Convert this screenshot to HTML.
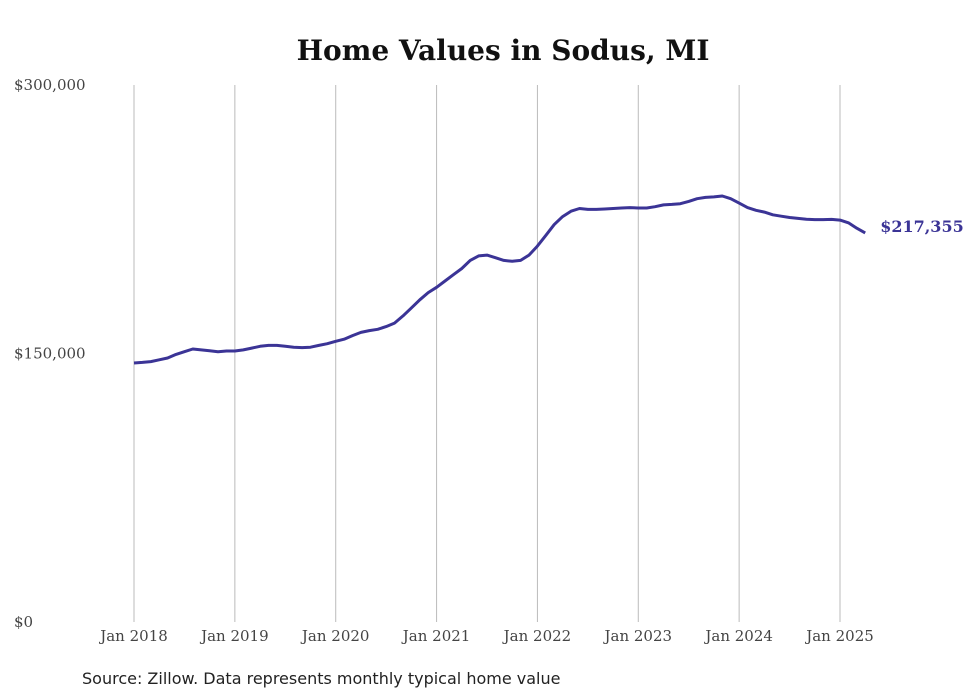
<!DOCTYPE html>
<html><head><meta charset="utf-8">
<style>
html,body{margin:0;padding:0;background:#fff;}
svg{display:block;font-family:"DejaVu Serif","Liberation Serif",serif;}
</style></head>
<body>
<svg id="chart" width="980" height="699" viewBox="0 0 980 699">
<rect width="980" height="699" fill="#fff"/>
<text x="503" y="60" text-anchor="middle" font-size="28" font-weight="bold" fill="#111">Home Values in Sodus, MI</text>
<g id="grid"></g>
<g id="yticks"></g>
<g id="xticks"></g>
<path id="line" fill="none" stroke="#3b3496" stroke-width="3" stroke-linejoin="round"/>
<text id="endlabel" font-size="16" font-weight="bold" fill="#3b3496"></text>
<text x="82" y="684" font-size="16" fill="#222" font-family="'DejaVu Sans','Liberation Sans',sans-serif">Source: Zillow. Data represents monthly typical home value</text>
</svg>
<script>
const startYear = 2018;
const values = [
144.7,145,145.5,146.5,147.5,149.5,151,152.5,152,151.5,151,151.4,
151.4,152,153,154,154.5,154.5,154,153.5,153.3,153.5,154.5,155.5,
156.8,158,160,161.8,162.8,163.5,165,167,171,175.5,180,184,
187,190.5,194,197.5,202,204.5,205,203.5,202,201.5,202,205,
210,216,222,226.5,229.5,231,230.5,230.5,230.7,231,231.3,231.5,
231.3,231.3,232,233,233.3,233.7,235,236.5,237.2,237.5,238,236.5,
234,231.5,230,229,227.5,226.7,226,225.5,225,224.8,224.8,224.9,
224.5,223,220,217.355
];
const xTickLabels = ["Jan 2018","Jan 2019","Jan 2020","Jan 2021","Jan 2022","Jan 2023","Jan 2024","Jan 2025"];
const yTickValues = [0,150000,300000];
const yTickLabels = ["$0","$150,000","$300,000"];
const lastLabel = "$217,355";

const NS="http://www.w3.org/2000/svg";
const x = m => 134 + m*(706/84);
const y = v => 622 - v/300000*537;
const grid=document.getElementById('grid'), xt=document.getElementById('xticks'), yt=document.getElementById('yticks');
xTickLabels.forEach((lab,i)=>{
  const gx=x(i*12);
  const l=document.createElementNS(NS,'line');
  
  
  l.setAttribute('x1',gx);l.setAttribute('x2',gx);l.setAttribute('y1',85);l.setAttribute('y2',622);
  l.setAttribute('stroke','#bbb');l.setAttribute('stroke-width','1');
  grid.appendChild(l);
  const t=document.createElementNS(NS,'text');
  
  
  t.setAttribute('x',gx);t.setAttribute('y',641);t.setAttribute('text-anchor','middle');
  t.setAttribute('font-size','15');t.setAttribute('fill','#444');
  t.textContent=lab;xt.appendChild(t);
});
yTickValues.forEach((v,i)=>{
  const t=document.createElementNS(NS,'text');
  
  
  t.setAttribute('x',14);t.setAttribute('y',y(v)+5);
  t.setAttribute('font-size','15');t.setAttribute('fill','#444');
  t.textContent=yTickLabels[i];yt.appendChild(t);
});
let d='';
values.forEach((v,i)=>{d+=(i?'L':'M')+x(i).toFixed(1)+','+y(v*1000).toFixed(1);});
document.getElementById('line').setAttribute('d',d);
const el=document.getElementById('endlabel');
const li=values.length-1;
el.setAttribute('x',x(li)+15);el.setAttribute('y',y(values[li]*1000)-1);
el.textContent=lastLabel;
</script>
</body></html>
